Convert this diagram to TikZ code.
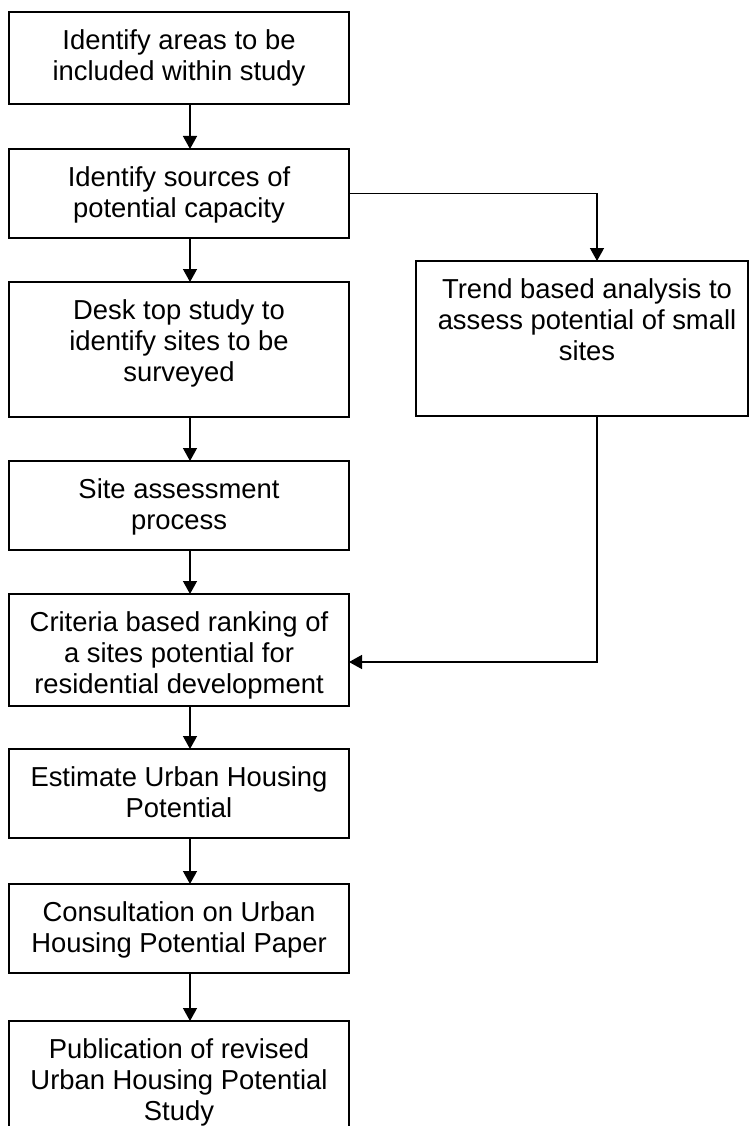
\documentclass[tikz,border=0pt]{standalone}
\usepackage{fontspec}
\setmainfont{Liberation Sans}
\usetikzlibrary{arrows.meta,calc}
\begin{document}
\begin{tikzpicture}[x=1pt,y=-1pt,
  box/.style={draw,line width=1.6pt,inner sep=0pt,outer sep=0pt},
  txt/.style={anchor=north,inner sep=0pt,align=center,font={\fontsize{27.4}{31}\selectfont}},
  arr/.style={line width=1.4pt,-{Triangle[width=14pt,length=13pt]}},
  ln/.style={line width=1.4pt}]
\useasboundingbox (0,0) rectangle (749,1126);
% boxes
\node[box,minimum width=340pt,minimum height=92pt] (b1) at (179,58) {};
\node[box,minimum width=340pt,minimum height=89pt] (b2) at (179,193.5) {};
\node[box,minimum width=340pt,minimum height=135pt] (b3) at (179,349.5) {};
\node[box,minimum width=340pt,minimum height=89pt] (b4) at (179,505.5) {};
\node[box,minimum width=340pt,minimum height=112pt] (b5) at (179,650) {};
\node[box,minimum width=340pt,minimum height=89pt] (b6) at (179,793.5) {};
\node[box,minimum width=340pt,minimum height=89pt] (b7) at (179,928.5) {};
\node[box,minimum width=340pt,minimum height=108pt] (b8) at (179,1075) {};
\node[box,minimum width=332pt,minimum height=155pt] (rb) at (582,338.5) {};
% texts
\node[txt] (t1) at (179,29) {Identify areas to be\\included within study};
\node[txt] (t2) at (179,166) {Identify sources of\\potential capacity};
\node[txt] (t3) at (179,299) {Desk top study to\\identify sites to be\\surveyed};
\node[txt] (t4) at (179,478) {Site assessment\\process};
\node[txt] (t5) at (179,611) {Criteria based ranking of\\a sites potential for\\residential development};
\node[txt] (t6) at (179,766) {Estimate Urban Housing\\Potential};
\node[txt] (t7) at (179,901) {Consultation on Urban\\Housing Potential Paper};
\node[txt] (t8) at (179,1038) {Publication of revised\\Urban Housing Potential\\Study};
\node[txt] (tr) at (587,278) {Trend based analysis to\\assess potential of small\\sites};
% connectors
\coordinate (ax) at (190,0);
\coordinate (rx) at (597,0);
\coordinate (ry) at (0,662);
\draw[arr] (b1.south -| ax) -- (b2.north -| ax);
\draw[arr] (b2.south -| ax) -- (b3.north -| ax);
\draw[arr] (b3.south -| ax) -- (b4.north -| ax);
\draw[arr] (b4.south -| ax) -- (b5.north -| ax);
\draw[arr] (b5.south -| ax) -- (b6.north -| ax);
\draw[arr] (b6.south -| ax) -- (b7.north -| ax);
\draw[arr] (b7.south -| ax) -- (b8.north -| ax);
\draw[arr] (b2.east) -| (rb.north -| rx);
\draw[arr] (rb.south -| rx) |- (b5.east |- ry);
\end{tikzpicture}
\end{document}
